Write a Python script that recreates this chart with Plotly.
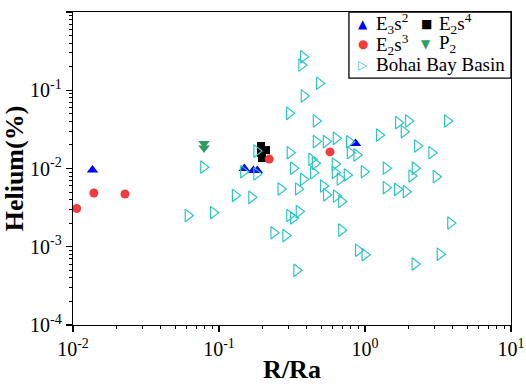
import plotly.graph_objects as go

# E3s2 (blue up-triangles)
e3s2_x = [0.0136, 0.149, 0.172, 0.183, 0.861]
e3s2_y = [0.00957, 0.0100, 0.00943, 0.00943, 0.0209]

# E2s4 (black squares)
e2s4_x = [0.194, 0.210, 0.194, 0.197]
e2s4_y = [0.0194, 0.0172, 0.0158, 0.0136]

# E2s3 (red circles)
e2s3_x = [0.0106, 0.0139, 0.0227, 0.221, 0.576]
e2s3_y = [0.00308, 0.00486, 0.00472, 0.0132, 0.0163]

# P2 (green down-triangles)
p2_x = [0.079, 0.079]
p2_y = [0.0209, 0.0183]

# Bohai Bay Basin (cyan open right-triangles)
bohai_x = [0.378, 0.368, 0.486, 0.382, 0.303, 0.462, 1.691, 1.980, 3.663, 1.850,
           1.253, 0.462, 0.541, 0.633, 0.781, 0.181, 0.306, 0.0783, 0.147, 0.181,
           0.323, 0.431, 0.455, 0.443, 0.378, 0.623, 0.623, 0.674, 0.753, 0.790,
           0.877, 2.281, 2.862, 0.985, 1.393, 2.200, 2.089, 3.064, 0.129, 0.167,
           0.265, 0.349, 0.518, 0.543, 0.635, 0.690, 1.393, 1.664, 1.909, 0.0914,
           0.0613, 0.304, 0.323, 0.353, 0.237, 0.286, 0.690, 3.852, 0.900, 0.997,
           3.263, 2.193, 0.340]
bohai_y = [0.268, 0.210, 0.123, 0.0845, 0.0507, 0.0405, 0.0385, 0.0405, 0.0405, 0.0295,
           0.0268, 0.0221, 0.0221, 0.0243, 0.0220, 0.0167, 0.0159, 0.0104, 0.0091, 0.0085,
           0.0101, 0.0131, 0.01165, 0.00884, 0.00728, 0.0114, 0.00889, 0.00734, 0.00826, 0.0159,
           0.0149, 0.0194, 0.0159, 0.0091, 0.0101, 0.0101, 0.00802, 0.00786, 0.00452, 0.00428,
           0.00547, 0.00547, 0.00597, 0.00461, 0.00445, 0.00379, 0.00568, 0.00542, 0.00505, 0.00272,
           0.00251, 0.00251, 0.00233, 0.00282, 0.00151, 0.00139, 0.00163, 0.00201, 0.000903, 0.000791,
           0.000803, 0.000602, 0.000500]

x_tickvals = [0.01, 0.1, 1, 10]
x_ticktext = ["10<sup>-2</sup>", "10<sup>-1</sup>", "10<sup>0</sup>", "10<sup>1</sup>"]
y_tickvals = [0.0001, 0.001, 0.01, 0.1, 1]
y_ticktext = ["10<sup>-4</sup>", "10<sup>-3</sup>", "10<sup>-2</sup>", "10<sup>-1</sup>", "10<sup>0</sup>"]

legend_labels = ["E<sub>3</sub>s<sup>2</sup>", "E<sub>2</sub>s<sup>4</sup>",
                 "E<sub>2</sub>s<sup>3</sup>", "P<sub>2</sub>", "Bohai Bay Basin"]

FONT = "Times New Roman"
C_BLUE, C_BLACK, C_RED, C_GREEN, C_CYAN = "#0000FF", "#000000", "#F03C3C", "#2E9E5E", "#2CC6C6"

fig = go.Figure()
fig.add_trace(go.Scatter(x=e3s2_x, y=e3s2_y, mode="markers", name=legend_labels[0],
                         marker=dict(symbol="triangle-up", size=10, color=C_BLUE)))
fig.add_trace(go.Scatter(x=e2s4_x, y=e2s4_y, mode="markers", name=legend_labels[1],
                         marker=dict(symbol="square", size=8, color=C_BLACK)))
fig.add_trace(go.Scatter(x=e2s3_x, y=e2s3_y, mode="markers", name=legend_labels[2],
                         marker=dict(symbol="circle", size=9, color=C_RED)))
fig.add_trace(go.Scatter(x=p2_x, y=p2_y, mode="markers", name=legend_labels[3],
                         marker=dict(symbol="triangle-down", size=10, color=C_GREEN)))
fig.add_trace(go.Scatter(x=bohai_x, y=bohai_y, mode="markers", name=legend_labels[4],
                         marker=dict(symbol="triangle-right-open", size=11, color=C_CYAN,
                                     line=dict(width=1.2))))

minor_x = [m * 10.0 ** e for e in range(-2, 1) for m in range(2, 10)]
minor_y = [m * 10.0 ** e for e in range(-4, 0) for m in range(2, 10)]

axis_common = dict(
    type="log", showgrid=False, zeroline=False, showline=True, linecolor="black",
    linewidth=1.3, mirror=True, ticks="outside", ticklen=6, tickwidth=1.2, tickcolor="black",
    tickfont=dict(family=FONT, size=20, color="black"), automargin=False,
)

fig.update_xaxes(**axis_common, range=[-2, 1], tickmode="array", tickvals=x_tickvals,
                 ticktext=x_ticktext,
                 minor=dict(tickmode="array", tickvals=minor_x, ticks="outside", ticklen=3,
                            tickwidth=1, tickcolor="black", showgrid=False),
                 title=dict(text="<b>R/Ra</b>", font=dict(family=FONT, size=26, color="black"),
                            standoff=3))
fig.update_yaxes(**axis_common, range=[-4, 0], tickmode="array", tickvals=y_tickvals,
                 ticktext=y_ticktext,
                 minor=dict(tickmode="array", tickvals=minor_y, ticks="outside", ticklen=3,
                            tickwidth=1, tickcolor="black", showgrid=False),
                 title=dict(text="<b>Helium(%)</b>", font=dict(family=FONT, size=26, color="black"),
                            standoff=3))

# Hand-built legend box (two columns on the first two rows, as in the original)
fig.add_shape(type="rect", xref="paper", yref="paper", x0=0.630, x1=1.0, y0=0.789, y1=1.0,
              line=dict(color="black", width=1.3), fillcolor="white", layer="above")

legend_rows = [
    # (glyph, colour, glyph x, text x, y, label)
    ("\u25B2", C_BLUE, 0.6621, 0.6880, 0.9617, legend_labels[0]),
    ("\u25A0", C_BLACK, 0.8070, 0.8310, 0.9617, legend_labels[1]),
    ("\u25CF", C_RED, 0.6621, 0.6880, 0.8962, legend_labels[2]),
    ("\u25BC", C_GREEN, 0.8070, 0.8310, 0.8962, legend_labels[3]),
    ("\u25B7", C_CYAN, 0.6621, 0.6880, 0.8307, legend_labels[4]),
]
for glyph, col, gx, tx, ty, label in legend_rows:
    fig.add_annotation(xref="paper", yref="paper", x=gx, y=ty, text=glyph, showarrow=False,
                       xanchor="center", yanchor="middle",
                       font=dict(family="DejaVu Sans", size=12, color=col))
    fig.add_annotation(xref="paper", yref="paper", x=tx, y=ty, text=label, showarrow=False,
                       xanchor="left", yanchor="middle",
                       font=dict(family=FONT, size=19, color="black"))

fig.update_layout(
    width=526, height=384,
    margin=dict(l=73, r=15, t=12, b=59),
    plot_bgcolor="white", paper_bgcolor="white",
    font=dict(family=FONT, size=18, color="black"),
    showlegend=False,
)

fig.write_html("out.html", config={"displayModeBar": False, "staticPlot": True},
               post_script="document.body.style.margin='0';")
